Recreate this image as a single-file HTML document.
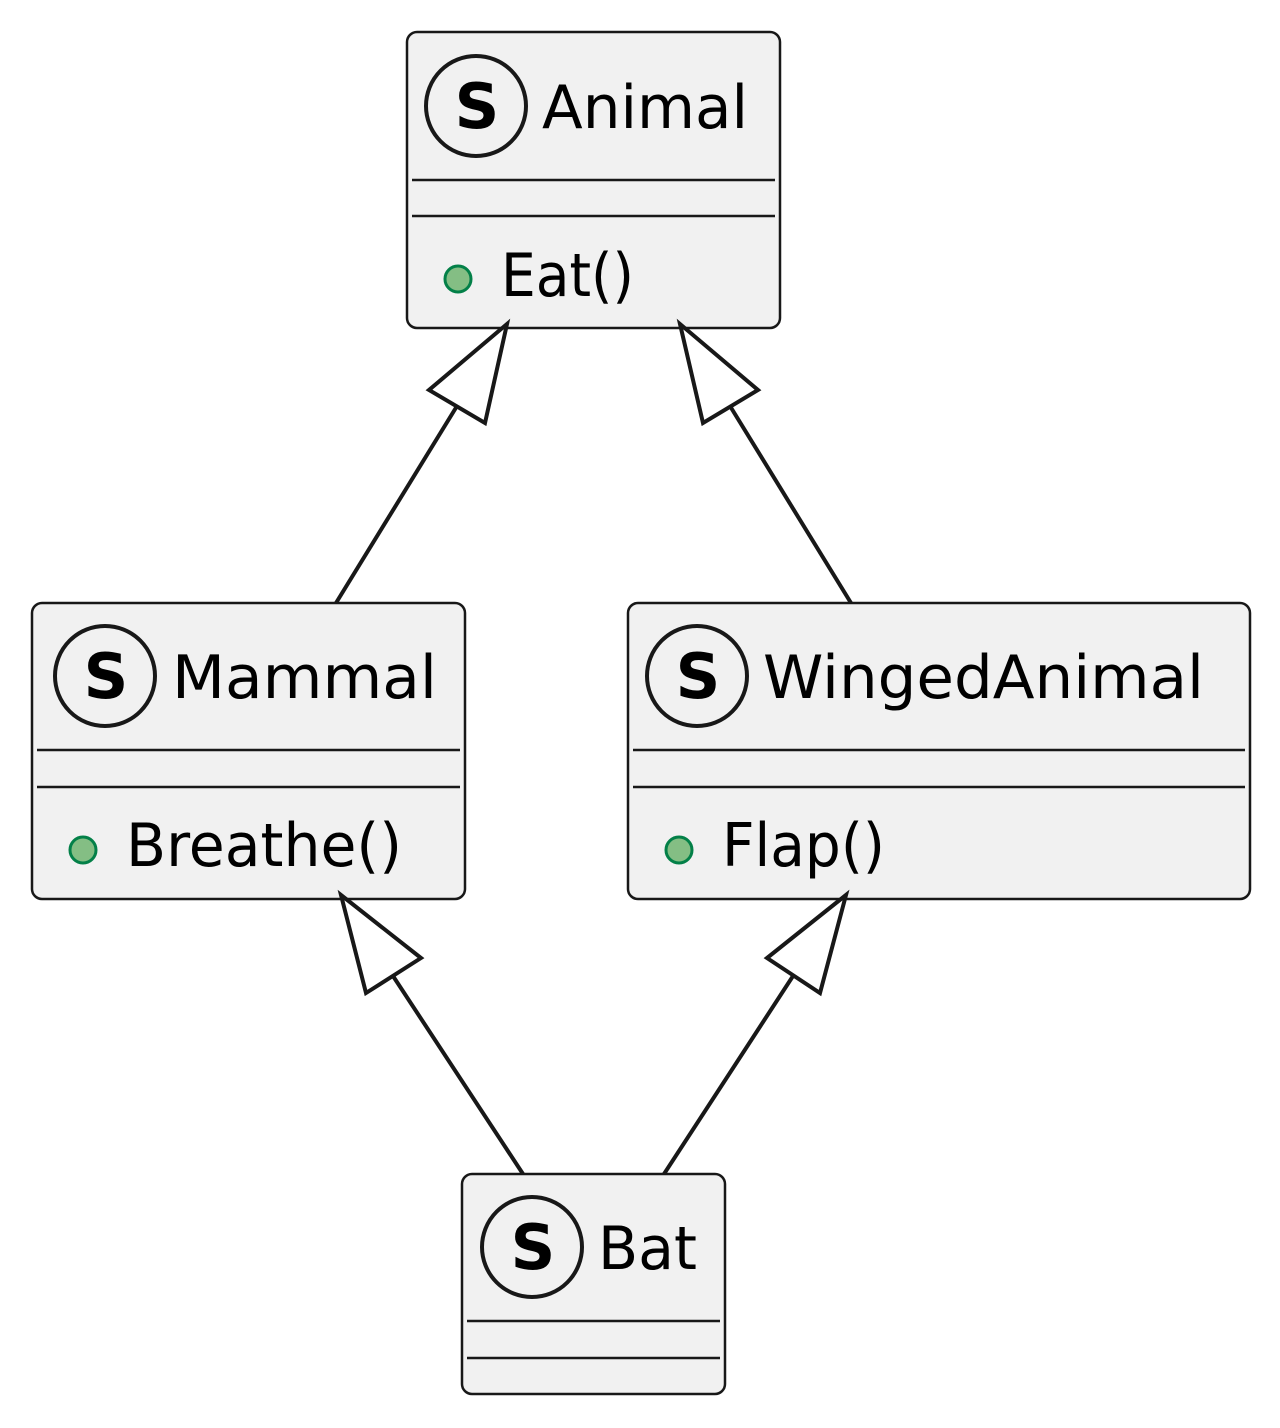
<!DOCTYPE html>
<html><head><meta charset="utf-8"><style>
html,body{margin:0;padding:0;background:#fff;}
svg{display:block;}
text{font-family:"DejaVu Sans","Liberation Sans",sans-serif;fill:#000;}
.s{font-family:"DejaVu Sans","Liberation Sans",sans-serif;font-weight:bold;}
</style></head><body>
<svg width="1280" height="1428" viewBox="0 0 1280 1428" xmlns="http://www.w3.org/2000/svg">
<g fill="#f1f1f1" stroke="#181818" stroke-width="2.5">
<rect x="407" y="32" width="373" height="296" rx="10"/>
<rect x="32" y="603" width="433" height="296" rx="10"/>
<rect x="628" y="603" width="622" height="296" rx="10"/>
<rect x="462" y="1174" width="263" height="220" rx="10"/>
</g>
<g stroke="#181818" stroke-width="2.5">
<line x1="412" y1="180" x2="775" y2="180"/><line x1="412" y1="216" x2="775" y2="216"/>
<line x1="37" y1="750" x2="460" y2="750"/><line x1="37" y1="787" x2="460" y2="787"/>
<line x1="633" y1="750" x2="1245" y2="750"/><line x1="633" y1="787" x2="1245" y2="787"/>
<line x1="467" y1="1321" x2="720" y2="1321"/><line x1="467" y1="1358" x2="720" y2="1358"/>
</g>
<g fill="none" stroke="#181818" stroke-width="4">
<circle cx="476" cy="106" r="50"/>
<circle cx="105" cy="676" r="50"/>
<circle cx="697" cy="676" r="50"/>
<circle cx="532" cy="1247" r="50"/>
</g>
<g class="s" font-size="62" text-anchor="middle">
<text class="s" x="477" y="128">S</text>
<text class="s" x="106" y="698">S</text>
<text class="s" x="698" y="698">S</text>
<text class="s" x="533" y="1269">S</text>
</g>
<text x="542" y="128" font-size="60" textLength="206" lengthAdjust="spacingAndGlyphs">Animal</text>
<text x="172" y="698" font-size="60" textLength="265" lengthAdjust="spacingAndGlyphs">Mammal</text>
<text x="763" y="698" font-size="60" textLength="441" lengthAdjust="spacingAndGlyphs">WingedAnimal</text>
<text x="598" y="1269" font-size="60" textLength="99" lengthAdjust="spacingAndGlyphs">Bat</text>
<text x="501" y="296" font-size="60" textLength="133" lengthAdjust="spacingAndGlyphs">Eat()</text>
<text x="126" y="866" font-size="60" textLength="276" lengthAdjust="spacingAndGlyphs">Breathe()</text>
<text x="722" y="866" font-size="60" textLength="163" lengthAdjust="spacingAndGlyphs">Flap()</text>
<g fill="#84be84" stroke="#038048" stroke-width="3">
<circle cx="458" cy="279" r="13"/>
<circle cx="83" cy="850" r="13"/>
<circle cx="679" cy="850" r="13"/>
</g>
<g stroke="#181818" stroke-width="4" fill="none">
<line x1="336" y1="603" x2="457" y2="406"/>
<line x1="851" y1="603" x2="730" y2="406"/>
<line x1="523" y1="1174" x2="393" y2="976"/>
<line x1="664" y1="1174" x2="793" y2="976"/>
</g>
<g stroke="#181818" stroke-width="4" fill="#fff" stroke-linejoin="miter">
<polygon points="507,324 429,390 485,423"/>
<polygon points="680,324 703,423 758,390"/>
<polygon points="341,895 366,993 421,958"/>
<polygon points="846,895 767,958 820,993"/>
</g>
</svg>
</body></html>
